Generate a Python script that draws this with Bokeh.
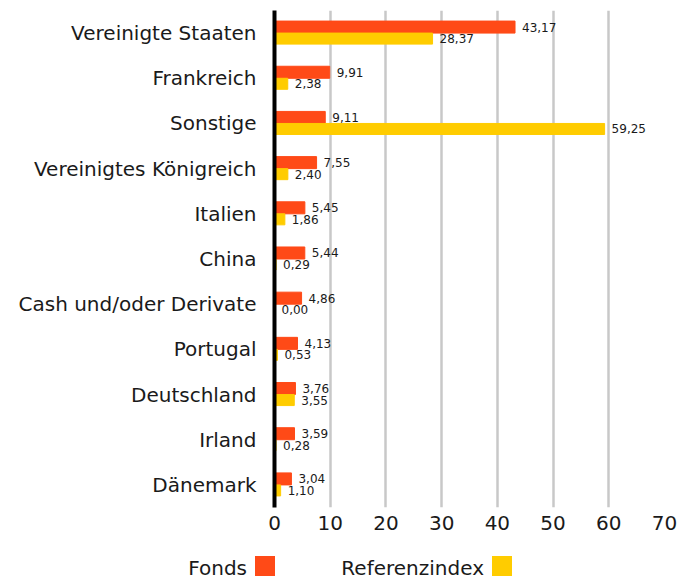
from bokeh.plotting import figure
from bokeh.models import ColumnDataSource, FactorRange, Range1d, Div
from bokeh.layouts import column
from bokeh.transform import dodge
from bokeh.core.properties import value
from bokeh.embed import file_html
from bokeh.resources import INLINE

categories = ["Vereinigte Staaten", "Frankreich", "Sonstige", "Vereinigtes Königreich",
              "Italien", "China", "Cash und/oder Derivate", "Portugal",
              "Deutschland", "Irland", "Dänemark"]
fonds = [43.17, 9.91, 9.11, 7.55, 5.45, 5.44, 4.86, 4.13, 3.76, 3.59, 3.04]
referenz = [28.37, 2.38, 59.25, 2.40, 1.86, 0.29, 0.00, 0.53, 3.55, 0.28, 1.10]
series_names = ["Fonds", "Referenzindex"]
x_ticks = [0, 10, 20, 30, 40, 50, 60, 70]

FONT = "DejaVu Sans"
C_FONDS = "#FF4A17"
C_REF = "#FFCC00"
TXT = "#1a1a1a"

def fmt(v):
    return f"{v:.2f}".replace(".", ",")

src = ColumnDataSource(dict(
    cat=categories, fonds=fonds, ref=referenz,
    fl=[fmt(v) for v in fonds], rl=[fmt(v) for v in referenz],
))

FL, FT, FR, FB = 274, 10, 664, 507   # frame edges in page pixels
W, H1, H2 = 692, 545, 38

p = figure(y_range=FactorRange(*reversed(categories)), x_range=Range1d(0, 70),
           width=W, height=H1, output_backend="svg", toolbar_location=None,
           min_border_left=FL, min_border_right=W - FR, min_border_top=FT,
           min_border_bottom=H1 - FB)
p.outline_line_color = None
p.background_fill_color = "white"
p.border_fill_color = "white"

p.hbar(y=dodge("cat", 0.133, range=p.y_range), right="fonds", left=0, height=0.266,
       color=C_FONDS, source=src)
p.hbar(y=dodge("cat", -0.122, range=p.y_range), right="ref", left=0, height=0.244,
       color=C_REF, source=src)

p.text(x="fonds", y=dodge("cat", 0.133, range=p.y_range), text="fl", source=src,
       x_offset=7, text_baseline="middle", text_font=value(FONT), text_font_size="12px",
       text_color=TXT)
p.text(x="ref", y=dodge("cat", -0.122, range=p.y_range), text="rl", source=src,
       x_offset=7, text_baseline="middle", text_font=value(FONT), text_font_size="12px",
       text_color=TXT)

p.xgrid.grid_line_color = "#c8c8c8"
p.xgrid.grid_line_width = 2.5
p.xgrid.ticker = x_ticks
p.ygrid.grid_line_color = None

p.xaxis.ticker = x_ticks
p.xaxis.axis_line_color = None
p.xaxis.major_tick_line_color = None
p.xaxis.minor_tick_line_color = None
p.xaxis.major_label_text_font = FONT
p.xaxis.major_label_text_font_size = "20px"
p.xaxis.major_label_text_color = TXT
p.xaxis.major_label_standoff = 2

p.yaxis.axis_line_color = "#000000"
p.yaxis.axis_line_width = 4
p.yaxis.major_tick_line_color = None
p.yaxis.minor_tick_line_color = None
p.yaxis.major_label_text_font = FONT
p.yaxis.major_label_text_font_size = "20px"
p.yaxis.major_label_text_color = TXT
p.yaxis.major_label_standoff = 12

# legend row: label, then its colour square to the right
text_right = [247, 484]     # right edge of each label (px)
square_left = [255, 492]    # left edge of each square (px)
parts = []
for name, tr, sl, col in zip(series_names, text_right, square_left, [C_FONDS, C_REF]):
    parts.append(
        f'<span style="position:absolute; right:{W - tr}px; top:11px; white-space:nowrap; '
        f'font-family:\'{FONT}\'; font-size:20px; line-height:normal; color:{TXT};">{name}</span>'
    )
    parts.append(
        f'<div style="position:absolute; left:{sl}px; top:11px; width:20px; height:20px; '
        f'background:{col};"></div>'
    )
legend_html = (f'<div style="position:relative; width:{W}px; height:{H2}px; margin:0; '
               f'padding:0;">' + "".join(parts) + '</div>')
legend_div = Div(text=legend_html, width=W, height=H2, margin=0)

layout = column(p, legend_div, spacing=0)
open("out.html", "w").write(file_html(layout, INLINE))
